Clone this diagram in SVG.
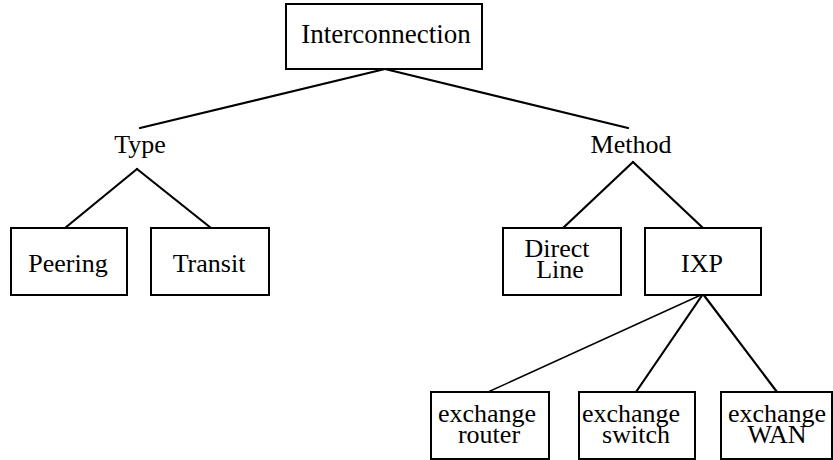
<svg xmlns="http://www.w3.org/2000/svg" width="833" height="460" viewBox="0 0 833 460">
<style>
.box{fill:#fff;stroke:#000;stroke-width:2}
.t{font-family:"Liberation Serif","Times New Roman",serif;font-size:26px;fill:#000;text-anchor:middle}
.c{stroke:#000;stroke-width:2.2;fill:none;stroke-linecap:round}
.thin{stroke-width:1.4}
</style>
<rect width="833" height="460" fill="#fff"/>
<g id="connectors">
<line class="c" x1="385" y1="69" x2="140" y2="128"/>
<line class="c" x1="385" y1="69" x2="628" y2="128"/>
<line class="c" x1="137" y1="169" x2="65" y2="228"/>
<line class="c" x1="137" y1="169" x2="211" y2="228"/>
<line class="c" x1="633" y1="162" x2="563" y2="228"/>
<line class="c" x1="633" y1="162" x2="703" y2="228"/>
<line class="c thin" x1="703" y1="294" x2="488" y2="392"/>
<line class="c" x1="703" y1="294" x2="636" y2="392"/>
<line class="c" x1="703" y1="294" x2="777" y2="392"/>
</g>
<g id="interconnection">
<rect class="box" x="286" y="4" width="196" height="65"/>
<text class="t" x="386" y="43" style="font-size:27px">Interconnection</text>
</g>
<g id="type">
<text class="t" x="140" y="153">Type</text>
</g>
<g id="method">
<text class="t" x="631" y="153">Method</text>
</g>
<g id="peering">
<rect class="box" x="11" y="228" width="116" height="67"/>
<text class="t" x="68" y="272">Peering</text>
</g>
<g id="transit">
<rect class="box" x="151" y="228" width="118" height="67"/>
<text class="t" x="209" y="272">Transit</text>
</g>
<g id="directline">
<rect class="box" x="503" y="228" width="118" height="67"/>
<text class="t"><tspan x="557" y="257">Direct</tspan><tspan x="560" y="278">Line</tspan></text>
</g>
<g id="ixp">
<rect class="box" x="645" y="228" width="116" height="67"/>
<text class="t" x="702" y="272">IXP</text>
</g>
<g id="router">
<rect class="box" x="431" y="392" width="118" height="67"/>
<text class="t"><tspan x="487" y="422">exchange</tspan><tspan x="489" y="443">router</tspan></text>
</g>
<g id="switch">
<rect class="box" x="579" y="392" width="116" height="67"/>
<text class="t"><tspan x="631" y="422">exchange</tspan><tspan x="636" y="443">switch</tspan></text>
</g>
<g id="wan">
<rect class="box" x="721" y="392" width="111" height="67"/>
<text class="t"><tspan x="777" y="422">exchange</tspan><tspan x="777" y="443">WAN</tspan></text>
</g>
</svg>
